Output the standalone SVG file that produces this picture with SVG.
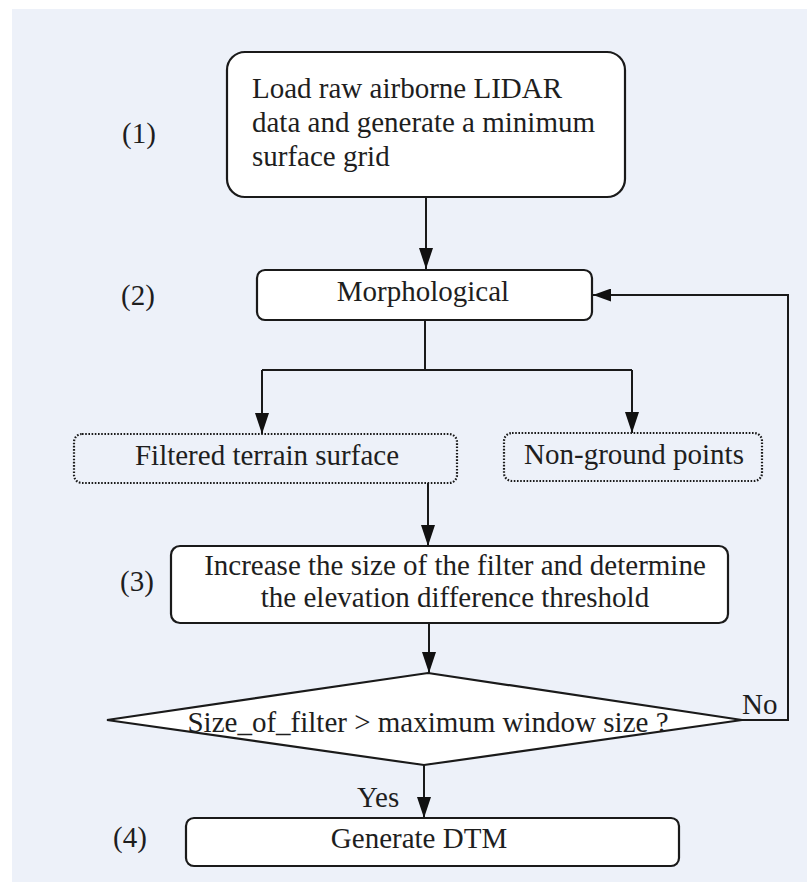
<svg xmlns="http://www.w3.org/2000/svg" width="807" height="882" viewBox="0 0 807 882">
<style>
.t{font-family:"Liberation Serif","Times New Roman",serif;font-size:29px;fill:#1e1e1e}
.c{text-anchor:middle}
.box{fill:#ffffff;stroke:#1a1a1a;stroke-width:2.2}
.dot{fill:none;stroke:#1a1a1a;stroke-width:2.2;stroke-dasharray:1.6 1.6}
.ln{fill:none;stroke:#1a1a1a;stroke-width:2}
</style>
<defs>
<marker id="ah" markerUnits="userSpaceOnUse" markerWidth="22" markerHeight="14" refX="21" refY="7" orient="auto">
<path d="M0,0 L21,7 L0,14 Z" fill="#111"/>
</marker>
<marker id="ah2" markerUnits="userSpaceOnUse" markerWidth="19" markerHeight="13" refX="18" refY="6.5" orient="auto">
<path d="M0,0 L18,6.5 L0,13 Z" fill="#111"/>
</marker>
</defs>
<rect x="0" y="0" width="807" height="882" fill="#ffffff"/>
<rect x="12" y="9" width="795" height="873" fill="#edf1f9"/>

<g id="connectors">
<path class="ln" d="M426,197 V269" marker-end="url(#ah)"/>
<path class="ln" d="M425,320 V370"/>
<path class="ln" d="M262,370 H632"/>
<path class="ln" d="M262,370 V434" marker-end="url(#ah)"/>
<path class="ln" d="M632,370 V433" marker-end="url(#ah)"/>
<path class="ln" d="M428,483 V546" marker-end="url(#ah)"/>
<path class="ln" d="M429,623 V673" marker-end="url(#ah)"/>
<path class="ln" d="M424,765 V818" marker-end="url(#ah)"/>
<path class="ln" d="M742,720 H788 V295 H593" marker-end="url(#ah2)"/>
<text class="t" x="357" y="807">Yes</text>
<text class="t" x="742" y="714">No</text>
</g>

<g id="label1"><text class="t" x="122" y="143">(1)</text></g>
<g id="label2"><text class="t" x="121" y="305">(2)</text></g>
<g id="label3"><text class="t" x="120" y="591">(3)</text></g>
<g id="label4"><text class="t" x="113" y="847">(4)</text></g>

<g id="node1">
<rect class="box" x="227" y="52" width="398" height="145" rx="18"/>
<text class="t" x="252" y="98">Load raw airborne LIDAR</text>
<text class="t" x="252" y="132">data and generate a minimum</text>
<text class="t" x="252" y="166">surface grid</text>
</g>

<g id="node2">
<rect class="box" x="257" y="270" width="335" height="50" rx="8"/>
<text class="t c" x="423" y="301">Morphological</text>
</g>

<g id="node-filtered">
<rect class="dot" x="74" y="434" width="383" height="49" rx="8"/>
<text class="t c" x="267" y="465">Filtered terrain surface</text>
</g>

<g id="node-nonground">
<rect class="dot" x="504" y="433" width="258" height="48" rx="8"/>
<text class="t c" x="634" y="464">Non-ground points</text>
</g>

<g id="node3">
<rect class="box" x="171" y="546" width="557" height="77" rx="9"/>
<text class="t c" x="455" y="575">Increase the size of the filter and determine</text>
<text class="t c" x="455" y="607">the elevation difference threshold</text>
</g>

<g id="decision">
<path class="box" d="M428,673 L742,720 L424,765 L107,720 Z"/>
<text class="t c" x="428" y="732">Size_of_filter &gt; maximum window size ?</text>
</g>

<g id="node4">
<rect class="box" x="186" y="818" width="493" height="48" rx="8"/>
<text class="t c" x="419" y="848">Generate DTM</text>
</g>
</svg>
